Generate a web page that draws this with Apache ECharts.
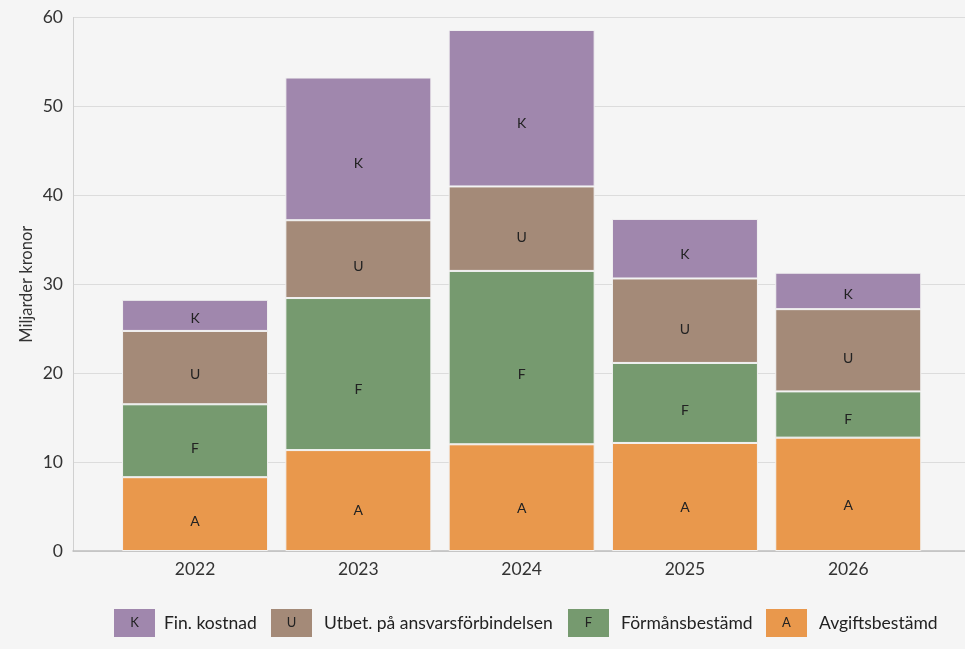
<!DOCTYPE html>
<html><head><meta charset="utf-8">
<script src="https://cdn.jsdelivr.net/npm/echarts@6/dist/echarts.min.js"></script>
<style>html,body{margin:0;padding:0;background:#f5f5f5}#c{width:965px;height:649px}</style>
</head><body><div id="c"></div>
<script>
const categories = ['2022','2023','2024','2025','2026'];
const avgiftsbestamd = [8.3, 11.35, 12.0, 12.15, 12.75];
const formansbestamd = [8.2, 17.1, 19.5, 9.0, 5.2];
const utbetalningar = [8.25, 8.75, 9.5, 9.5, 9.25];
const finKostnad = [3.5, 16.05, 17.6, 6.7, 4.1];
const yTicks = [0, 10, 20, 30, 40, 50, 60];
const seriesNames = ['Avgiftsbestämd','Förmånsbestämd','Utbet. på ansvarsförbindelsen','Fin. kostnad'];
const seriesLetters = ['A','F','U','K'];
const seriesData = [avgiftsbestamd, formansbestamd, utbetalningar, finKostnad];
const colors = ['#e9984c','#769a6f','#a48a78','#a087ad'];

const FONT = 'Lato, "Open Sans", sans-serif';
const chart = echarts.init(document.getElementById('c'));

const series = seriesData.map((d, i) => ({
  name: seriesNames[i], type: 'bar', stack: 'tot', xAxisIndex: 1, yAxisIndex: 1,
  data: d, barWidth: 146,
  itemStyle: { color: colors[i], borderColor: '#f2f2f2', borderWidth: 1 },
  label: { show: true, position: ['50%', '60%'], align: 'center', verticalAlign: 'middle',
    formatter: seriesLetters[i], color: '#222', fontSize: 14, fontFamily: FONT },
  emphasis: { disabled: true }
}));

// custom legend (order K, U, F, A)
const legendItems = [
  { idx: 3, box: 114, text: 164 },
  { idx: 2, box: 271, text: 324 },
  { idx: 1, box: 568, text: 621 },
  { idx: 0, box: 766, text: 819 }
];
const graphics = [];
legendItems.forEach(it => {
  graphics.push({ type: 'rect', shape: { x: it.box, y: 609, width: 41, height: 28 }, style: { fill: colors[it.idx] } });
  graphics.push({ type: 'text', x: it.box + 20.5, y: 623, style: { text: seriesLetters[it.idx], fill: '#222', font: '13px ' + FONT, textAlign: 'center', textVerticalAlign: 'middle' } });
  graphics.push({ type: 'text', x: it.text, y: 623, style: { text: seriesNames[it.idx], fill: '#222', font: '17.5px ' + FONT, textAlign: 'left', textVerticalAlign: 'middle' } });
});

chart.setOption({
  backgroundColor: '#f5f5f5',
  animation: false,
  grid: [
    { left: 73, right: 0, top: 17.5, bottom: 98 },
    { left: 113.4, width: 816.5, top: 17.5, bottom: 98 }
  ],
  xAxis: [
    { type: 'category', gridIndex: 0, data: [''], axisLine: { show: true, lineStyle: { color: '#bdbdbd', width: 1.5 } }, axisTick: { show: false }, axisLabel: { show: false } },
    { type: 'category', gridIndex: 1, data: categories, axisLine: { show: false }, axisTick: { show: false },
      axisLabel: { color: '#333', fontSize: 17.5, fontFamily: FONT, margin: 9 } }
  ],
  yAxis: [
    { type: 'value', gridIndex: 0, min: 0, max: 60, interval: 10,
      name: 'Miljarder kronor', nameLocation: 'middle', nameGap: 38, nameRotate: 90, nameMoveOverlap: false,
      nameTextStyle: { color: '#333', fontSize: 16.5, fontFamily: FONT },
      axisLine: { show: true, lineStyle: { color: '#d0d0d0' } }, axisTick: { show: false },
      axisLabel: { color: '#333', fontSize: 17.5, fontFamily: FONT, margin: 10, formatter: v => yTicks.includes(v) ? String(v) : '' },
      splitLine: { show: true, lineStyle: { color: '#dcdcdc' } } },
    { type: 'value', gridIndex: 1, min: 0, max: 60, interval: 10, show: false, splitLine: { show: false } }
  ],
  series: series,
  graphic: graphics
});
</script></body></html>
